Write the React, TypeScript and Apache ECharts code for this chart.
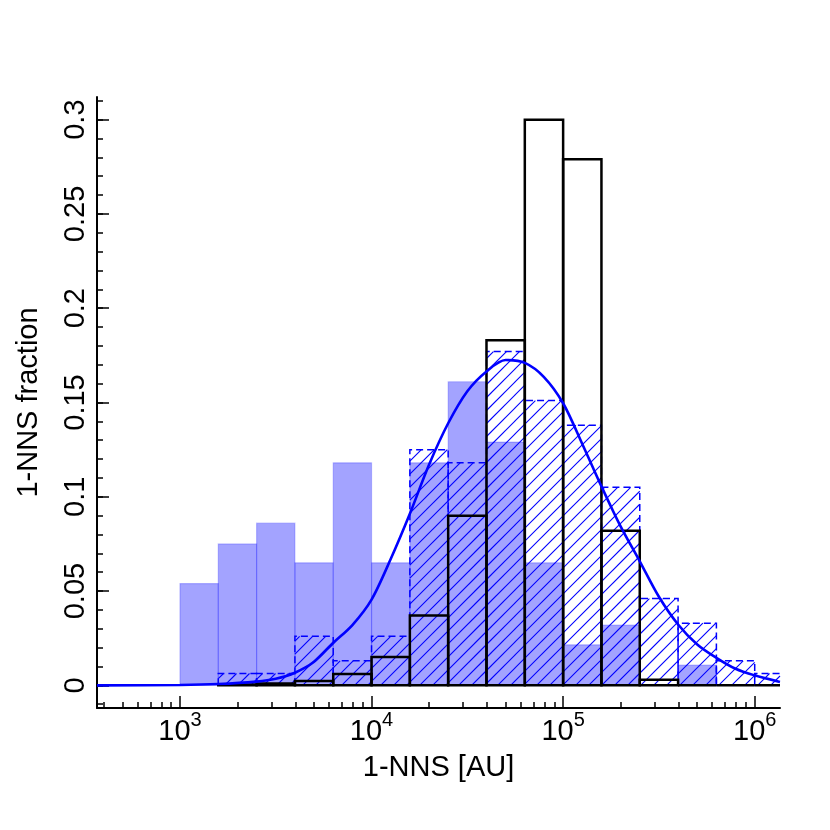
import React, { useEffect, useRef } from "react";
import * as echarts from "echarts";

// Bin edges of the histograms, as log10 of the separation in AU (0.2 dex bins)
const binEdgeExponents = [3.0, 3.2, 3.4, 3.6, 3.8, 4.0, 4.2, 4.4, 4.6, 4.8, 5.0, 5.2, 5.4, 5.6, 5.8, 6.0, 6.2];

// Filled (translucent blue) histogram, bins starting at 10^3.0
const filledFractions = [0.054, 0.075, 0.086, 0.065, 0.118, 0.065, 0.118, 0.161, 0.129, 0.065, 0.0215, 0.032, 0, 0.0108, 0];
// Hatched, dashed-outline histogram, bins starting at 10^3.2
const hatchedFractions = [0.0063, 0.0063, 0.026, 0.013, 0.026, 0.125, 0.118, 0.177, 0.151, 0.138, 0.105, 0.046, 0.033, 0.013, 0.0063];
// Black outline histogram, bins starting at 10^3.2
const outlineFractions = [0.0005, 0.001, 0.0023, 0.006, 0.015, 0.037, 0.09, 0.183, 0.3, 0.279, 0.082, 0.003, 0, 0, 0];

// Fitted curve (x as log10 AU)
const fitLogSeparation = [2.567, 3.0, 3.2, 3.4, 3.5, 3.6, 3.7, 3.8, 3.9, 4.0, 4.1, 4.2, 4.3, 4.4, 4.5, 4.6, 4.7, 4.8, 4.9, 5.0, 5.1, 5.2, 5.3, 5.4, 5.5, 5.6, 5.7, 5.8, 5.9, 6.0, 6.132];
const fitFraction = [0, 0.0002, 0.0007, 0.002, 0.0035, 0.0067, 0.0125, 0.0225, 0.032, 0.0455, 0.067, 0.091, 0.117, 0.139, 0.156, 0.1665, 0.1725, 0.171, 0.1635, 0.1496, 0.128, 0.1055, 0.0843, 0.0658, 0.047, 0.0323, 0.0217, 0.0146, 0.0088, 0.0053, 0.0018];

// Axis ticks
const xMajorTickExponents = [3, 4, 5, 6];
const yMajorTicks = [0, 0.05, 0.1, 0.15, 0.2, 0.25, 0.3];

const X_MIN = 2.567;
const X_MAX = 6.132;
const Y_MIN = -0.012;
const Y_MAX = 0.312;

const FONT = "'Liberation Sans', Arial, Helvetica, sans-serif";
const FS = 29;

function buildBins(values: number[], startEdge: number) {
  return values.map((v, i) => [binEdgeExponents[startEdge + i], binEdgeExponents[startEdge + i + 1], v]);
}

function rectGeom(params: any, api: any) {
  const cs = params.coordSys;
  const tl = api.coord([api.value(0), api.value(2)]);
  const br = api.coord([api.value(1), 0]);
  const x0 = Math.max(tl[0], cs.x);
  const x1 = Math.min(br[0], cs.x + cs.width);
  const clippedRight = br[0] > cs.x + cs.width + 0.5;
  return { x0, x1, yt: tl[1], yb: br[1], clippedRight };
}

function outlinePoints(g: any) {
  if (g.clippedRight) {
    return { type: "polyline", points: [[g.x1, g.yb], [g.x0, g.yb], [g.x0, g.yt], [g.x1, g.yt]] };
  }
  return { type: "polygon", points: [[g.x0, g.yb], [g.x0, g.yt], [g.x1, g.yt], [g.x1, g.yb]] };
}

export default function App() {
  const ref = useRef<HTMLDivElement>(null);
  useEffect(() => {
    if (!ref.current) return;
    const chart = echarts.init(ref.current, null, { renderer: "svg" });

    const xMinor: number[] = [];
    for (let e = 2; e <= 6; e++) {
      for (let m = 2; m <= 9; m++) {
        const v = e + Math.log10(m);
        if (v >= X_MIN && v <= X_MAX) xMinor.push(v);
      }
    }
    const yMinor: number[] = [];
    for (let k = -1; k <= 31; k++) yMinor.push(k / 100);

    const axisLineStyle = { color: "#000", width: 2 };

    const option: any = {
      animation: false,
      grid: { left: 97, right: 50, top: 97, bottom: 122 },
      xAxis: [
        {
          type: "value",
          position: "bottom",
          min: X_MIN,
          max: X_MAX,
          axisLine: { show: true, onZero: false, lineStyle: axisLineStyle },
          axisTick: { show: true, inside: true, length: 12, customValues: xMajorTickExponents, lineStyle: { color: "#000", width: 1.5 } },
          axisLabel: {
            show: true,
            customValues: xMajorTickExponents,
            margin: 1,
            formatter: (v: number) => `{b|10}{s|${Math.round(v)}}`,
            rich: {
              b: { fontSize: FS, fontFamily: FONT, color: "#000", padding: [6, 0, 0, 0] },
              s: { fontSize: 20, fontFamily: FONT, color: "#000", verticalAlign: "top" },
            },
          },
          splitLine: { show: false },
          name: "1-NNS [AU]",
          nameLocation: "middle",
          nameGap: 43,
          nameTextStyle: { fontSize: FS, fontFamily: FONT, color: "#000" },
        },
        {
          type: "value",
          position: "bottom",
          min: X_MIN,
          max: X_MAX,
          axisLine: { show: false, onZero: false },
          axisTick: { show: true, inside: true, length: 6, customValues: xMinor, lineStyle: { color: "#000", width: 1.5 } },
          axisLabel: { show: false },
          splitLine: { show: false },
        },
      ],
      yAxis: [
        {
          type: "value",
          position: "left",
          min: Y_MIN,
          max: Y_MAX,
          axisLine: { show: true, onZero: false, lineStyle: axisLineStyle },
          axisTick: { show: true, inside: true, length: 12, customValues: yMajorTicks, lineStyle: { color: "#000", width: 1.5 } },
          axisLabel: {
            show: true,
            customValues: yMajorTicks,
            rotate: 90,
            margin: 9,
            fontSize: FS,
            fontFamily: FONT,
            color: "#000",
            formatter: (v: number) => String(Math.round(v * 100) / 100),
          },
          splitLine: { show: false },
          name: "1-NNS fraction",
          nameLocation: "middle",
          nameGap: 56,
          nameTextStyle: { fontSize: FS, fontFamily: FONT, color: "#000" },
        },
        {
          type: "value",
          position: "left",
          min: Y_MIN,
          max: Y_MAX,
          axisLine: { show: false, onZero: false },
          axisTick: { show: true, inside: true, length: 6, customValues: yMinor, lineStyle: { color: "#000", width: 1.5 } },
          axisLabel: { show: false },
          splitLine: { show: false },
        },
      ],
      series: [
        {
          type: "custom",
          name: "filled",
          z: 1,
          silent: true,
          xAxisIndex: 0,
          yAxisIndex: 0,
          data: buildBins(filledFractions, 0),
          renderItem: (params: any, api: any) => {
            const g = rectGeom(params, api);
            if (g.x1 <= g.x0 || api.value(2) <= 0) return null;
            return {
              type: "polygon",
              shape: { points: [[g.x0, g.yb], [g.x0, g.yt], [g.x1, g.yt], [g.x1, g.yb]] },
              style: { fill: "rgba(0,0,255,0.36)", stroke: "rgba(0,0,255,0.22)", lineWidth: 1.2 },
            };
          },
        },
        {
          type: "custom",
          name: "hatched",
          z: 2,
          silent: true,
          xAxisIndex: 0,
          yAxisIndex: 0,
          data: buildBins(hatchedFractions, 1),
          renderItem: (params: any, api: any) => {
            const g = rectGeom(params, api);
            if (g.x1 <= g.x0) return null;
            const s = 13;
            const children: any[] = [];
            for (let c = Math.ceil((g.x0 + g.yt) / s) * s; c <= g.x1 + g.yb; c += s) {
              const xa = Math.max(g.x0, c - g.yb);
              const xb = Math.min(g.x1, c - g.yt);
              if (xb > xa + 0.3) {
                children.push({
                  type: "line",
                  shape: { x1: xa, y1: c - xa, x2: xb, y2: c - xb },
                  style: { stroke: "#0000ff", lineWidth: 1.1 },
                });
              }
            }
            const o = outlinePoints(g);
            children.push({
              type: o.type,
              shape: { points: o.points },
              style: { fill: "none", stroke: "#0000ff", lineWidth: 1.5, lineDash: [7, 4] },
            });
            return { type: "group", children };
          },
        },
        {
          type: "custom",
          name: "outline",
          z: 3,
          silent: true,
          xAxisIndex: 0,
          yAxisIndex: 0,
          data: buildBins(outlineFractions, 1),
          renderItem: (params: any, api: any) => {
            const g = rectGeom(params, api);
            if (g.x1 <= g.x0) return null;
            const o = outlinePoints(g);
            return {
              type: o.type,
              shape: { points: o.points },
              style: { fill: "none", stroke: "#000", lineWidth: 2.5, lineJoin: "miter" },
            };
          },
        },
        {
          type: "line",
          name: "fit",
          z: 4,
          silent: true,
          xAxisIndex: 0,
          yAxisIndex: 0,
          showSymbol: false,
          smooth: 0.3,
          data: fitLogSeparation.map((x, i) => [x, fitFraction[i]]),
          lineStyle: { color: "#0000ff", width: 2.6 },
        },
      ],
    };
    chart.setOption(option);
    return () => chart.dispose();
  }, []);
  return <div ref={ref} style={{ position: "fixed", left: 0, top: 0, width: 830, height: 830 }} />;
}
